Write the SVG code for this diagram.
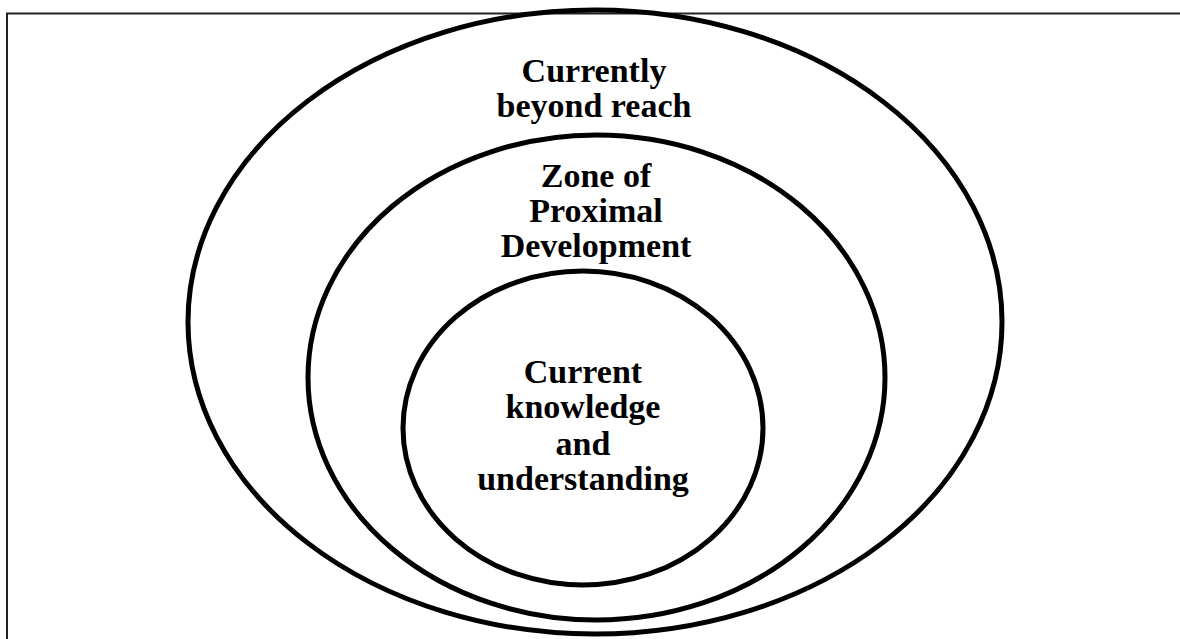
<svg xmlns="http://www.w3.org/2000/svg" width="1180" height="639" viewBox="0 0 1180 639">
  <style>
    .ring { fill: none; stroke: #000; stroke-width: 5; }
    .frame { fill: none; stroke: #222; stroke-width: 2; }
    .lbl { font-family: "Liberation Serif", "Times New Roman", serif; font-weight: bold; font-size: 34px; fill: #000; text-anchor: middle; }
  </style>
  <rect width="1180" height="639" fill="#fff"/>
  <path class="frame" d="M7,639 V13.5 H1180"/>
  <g id="outer">
    <ellipse class="ring" cx="595" cy="322" rx="407" ry="312"/>
    <text class="lbl" x="594" y="82">Currently</text>
    <text class="lbl" x="594" y="117">beyond reach</text>
  </g>
  <g id="zpd">
    <ellipse class="ring" cx="596.5" cy="377.5" rx="288.5" ry="242.5"/>
    <text class="lbl" x="596" y="187">Zone of</text>
    <text class="lbl" x="596" y="222">Proximal</text>
    <text class="lbl" x="596" y="257">Development</text>
  </g>
  <g id="current">
    <ellipse class="ring" cx="583" cy="428" rx="180" ry="157"/>
    <text class="lbl" x="583" y="383">Current</text>
    <text class="lbl" x="583" y="418">knowledge</text>
    <text class="lbl" x="583" y="455">and</text>
    <text class="lbl" x="583" y="490">understanding</text>
  </g>
  <g id="connectors"/>
</svg>
